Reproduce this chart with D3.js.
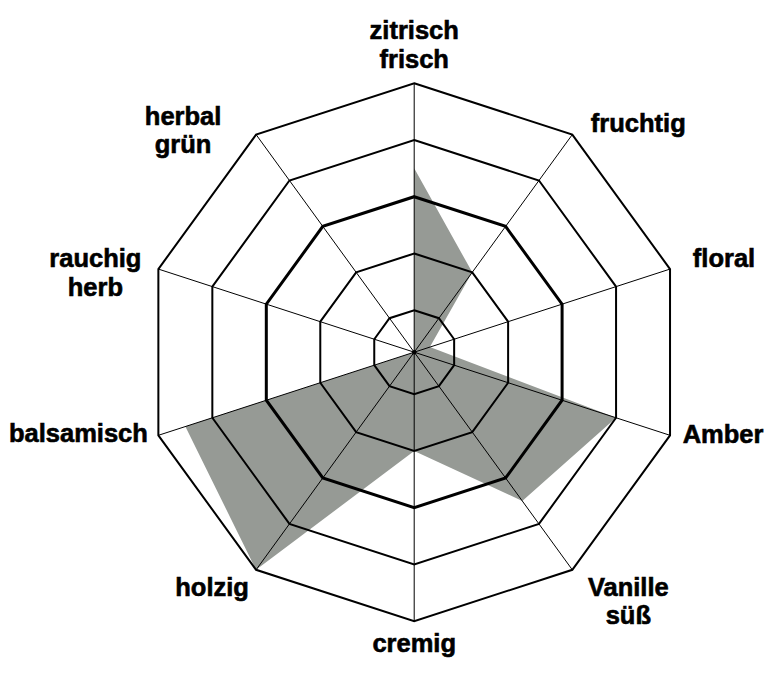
<!DOCTYPE html>
<html>
<head>
<meta charset="utf-8">
<script src="https://cdn.jsdelivr.net/npm/d3@7"></script>
<style>
  html, body { margin: 0; padding: 0; background: #fff; }
  svg { display: block; }
  text { font-family: "Liberation Sans", Arial, sans-serif; font-weight: bold; font-size: 25.5px; fill: #000; stroke: #000; stroke-width: 0.6px; }
</style>
</head>
<body>
<svg id="chart" width="771" height="687"></svg>
<script>
// ---- data ----
const categories = [
  ["zitrisch", "frisch"],
  ["fruchtig"],
  ["floral"],
  ["Amber"],
  ["Vanille", "süß"],
  ["cremig"],
  ["holzig"],
  ["balsamisch"],
  ["rauchig", "herb"],
  ["herbal", "grün"]
];
const values = [3.5, 2, 0.55, 4, 3.5, 2, 5, 4.5, 0, 0];
const levels = [1, 2, 3, 4, 5];

// ---- layout ----
const width = 771, height = 687;
const cx = 414.2, cy = 352.2;
const labelShift = [[0,-44],[66,-3],[54,-2],[53,8],[56,26],[0,31],[-44,26],[-80,7],[-63,-2],[-73,-10]];
const lineGap = 28.5;

const svg = d3.select("#chart");
const g = svg.append("g").attr("transform", `translate(${cx},${cy})`);

const n = categories.length;
const angle = d3.scaleLinear().domain([0, n]).range([0, 2 * Math.PI]);
const rScale = d3.scaleLinear().domain([1, 5]).range([42, 269]);
const rad = v => Math.max(0, rScale(v));
const pt = (i, r) => [r * Math.sin(angle(i)), -r * Math.cos(angle(i))];

// data area (drawn beneath grid)
const area = d3.line().curve(d3.curveLinearClosed);
g.append("path")
  .attr("d", area(values.map((v, i) => pt(i, rad(v)))))
  .attr("fill", "#969a95")
  .attr("stroke", "none");

// spokes
g.selectAll("line.spoke").data(categories).join("line")
  .attr("class", "spoke")
  .attr("x1", 0).attr("y1", 0)
  .attr("x2", (d, i) => pt(i, rScale(5))[0])
  .attr("y2", (d, i) => pt(i, rScale(5))[1])
  .attr("stroke", "#000").attr("stroke-width", 1);

// rings
g.selectAll("path.ring").data(levels).join("path")
  .attr("class", "ring")
  .attr("d", lv => area(categories.map((c, i) => pt(i, rScale(lv)))))
  .attr("fill", "none")
  .attr("stroke", "#000")
  .attr("stroke-linejoin", "miter")
  .attr("stroke-width", lv => lv === 3 ? 3 : 2);

// center dot
g.append("circle").attr("r", 2.2).attr("fill", "#000");

// labels
const lab = g.selectAll("text.lab").data(categories).join("text")
  .attr("class", "lab")
  .attr("text-anchor", "middle")
  .attr("x", (d, i) => pt(i, rScale(5))[0] + labelShift[i][0])
  .attr("y", (d, i) => pt(i, rScale(5))[1] + labelShift[i][1]);
lab.each(function(d, i) {
  const t = d3.select(this);
  const x = pt(i, rScale(5))[0] + labelShift[i][0];
  d.forEach((line, k) => {
    t.append("tspan").attr("x", x).attr("dy", k === 0 ? 0 : lineGap).text(line);
  });
});
</script>
</body>
</html>
